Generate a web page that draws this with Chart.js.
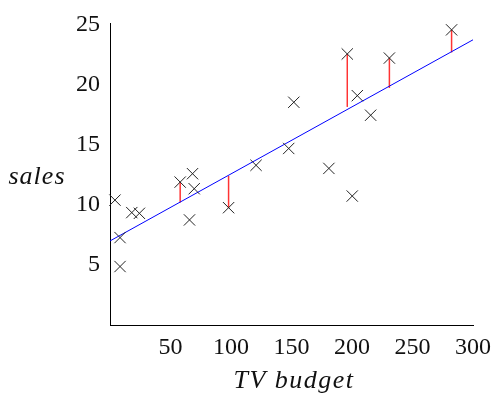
<!DOCTYPE html>
<html>
<head>
<meta charset="utf-8">
<script src="https://cdn.jsdelivr.net/npm/chart.js@4/dist/chart.umd.min.js"></script>
<style>
    html, body { margin: 0; padding: 0; background: #fff; }
    #wrap { width: 493px; height: 394px; }
</style>
</head>
<body>
<div id="wrap"><canvas id="canvas" width="493" height="394"></canvas></div>
<script>
// TV budget vs sales
var tvBudget = [4.1, 8.3, 8.3, 18, 24.3, 58, 65.7, 68.2, 69.6, 98,
    120.7, 147.7, 151.9, 180.9, 196.1, 200.2, 204.4, 215.4, 230.9, 282.3];
var sales = [10.4, 7.28, 4.87, 9.36, 9.3, 11.9, 8.75, 12.6, 11.35, 9.77,
    13.3, 14.7, 18.55, 13.04, 22.57, 10.74, 19.1, 17.47, 22.23, 24.58];

// fitted line end points
var fitX = [0, 300];
var fitY = [7.0, 23.75];

// residuals drawn in red: x, value at the point, value on the line
var residX = [58, 98, 196.1, 230.9, 282.3];
var residPoint = [11.9, 9.77, 22.57, 22.23, 24.58];
var residLine = [10.2, 12.4, 18.16, 19.74, 22.7];

var xTicks = [50, 100, 150, 200, 250, 300];
var yTicks = [5, 10, 15, 20, 25];

var xTitle = 'TV budget';
var yTitle = 'sales';

var serif = "'Liberation Serif', 'DejaVu Serif', serif";

function toPoints(xs, ys) {
    var out = [];
    for (var i = 0; i < xs.length; i++) {
        out.push({x: xs[i], y: ys[i]});
    }
    return out;
}

var datasets = [{
        label: 'data',
        data: toPoints(tvBudget, sales),
        pointStyle: 'crossRot',
        pointRadius: 8,
        pointBorderWidth: 1,
        borderColor: '#222',
        backgroundColor: '#222',
        showLine: false,
        clip: false,
    }, {
        label: 'fit',
        data: toPoints(fitX, fitY),
        showLine: true,
        pointRadius: 0,
        borderColor: '#0000ff',
        borderWidth: 1,
        clip: false,
    }];

residX.forEach(function (x, i) {
    datasets.push({
        label: 'residual ' + i,
        data: [{x: x, y: residLine[i]}, {x: x, y: residPoint[i]}],
        showLine: true,
        pointRadius: 0,
        borderColor: 'rgba(255, 0, 0, 0.8)',
        borderWidth: 1.5,
    });
});

// axis titles, kept horizontal like the original
var axisTitles = {
    id: 'axisTitles',
    afterDraw: function (chart) {
        var ctx = chart.ctx;
        var area = chart.chartArea;
        ctx.save();
        ctx.fillStyle = '#111';
        ctx.font = 'italic 26px ' + serif;
        ctx.letterSpacing = '1px';
        ctx.textAlign = 'center';
        ctx.textBaseline = 'alphabetic';
        ctx.fillText(yTitle, 37, 184);
        ctx.letterSpacing = '1.5px';
        ctx.fillText(xTitle, 294, 388);
        ctx.restore();
    }
};

Chart.defaults.font.family = serif;
Chart.defaults.font.size = 24;
Chart.defaults.color = '#111';

var chart = new Chart(document.getElementById('canvas'), {
    type: 'scatter',
    data: {datasets: datasets},
    options: {
        responsive: false,
        animation: false,
        layout: {
            padding: {left: 0, right: 20, top: 23, bottom: 0},
        },
        plugins: {
            legend: {display: false},
            tooltip: {enabled: false},
        },
        scales: {
            x: {
                type: 'linear',
                min: 0,
                max: 300,
                afterBuildTicks: function (scale) {
                    scale.ticks = xTicks.map(function (v) { return {value: v}; });
                },
                afterFit: function (scale) {
                    scale.height = 69;
                    scale.paddingLeft = 0;
                    scale.paddingRight = 0;
                },
                grid: {drawOnChartArea: false, drawTicks: false},
                border: {color: '#000', width: 1},
                ticks: {padding: 8, maxRotation: 0, autoSkip: false},
            },
            y: {
                type: 'linear',
                min: 0,
                max: 25.15,
                afterBuildTicks: function (scale) {
                    scale.ticks = yTicks.map(function (v) { return {value: v}; });
                },
                afterFit: function (scale) {
                    scale.width = 110;
                    scale.paddingTop = 0;
                    scale.paddingBottom = 0;
                },
                grid: {drawOnChartArea: false, drawTicks: false},
                border: {color: '#000', width: 1},
                ticks: {padding: 10, autoSkip: false},
            },
        },
    },
    plugins: [axisTitles],
});
</script>
</body>
</html>
